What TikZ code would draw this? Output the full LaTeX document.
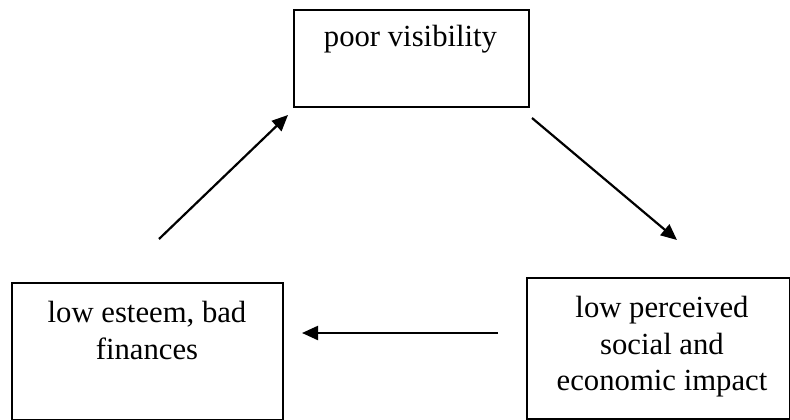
\documentclass[tikz,border=0pt]{standalone}
\usepackage{fontspec}
\setmainfont{Liberation Serif}
\usetikzlibrary{arrows.meta}
\begin{document}
\begin{tikzpicture}[x=1pt,y=-1pt,
  box/.style={draw=black, line width=2pt, inner sep=0pt, anchor=north west},
  txt/.style={font=\fontsize{30.7}{36.5}\selectfont, align=center, inner sep=0pt},
  conn/.style={line width=2.2pt, -{Triangle[length=16pt,width=14pt]}}]
\useasboundingbox (0,0) rectangle (790,420);
% boxes
\node[box, minimum width=235pt, minimum height=97pt] (top) at (293,9) {};
\node[box, minimum width=271pt, minimum height=137pt] (left) at (11,282) {};
\node[box, minimum width=263pt, minimum height=141pt] (right) at (526,277) {};
% texts
\node[txt, anchor=base] (toptxt) at (410.5,47) {poor visibility};
\node[txt, anchor=north] (lefttxt) at (147,301) {low esteem, bad\\finances};
\node[txt, anchor=north] (righttxt) at (662,296) {low perceived\\social and\\economic impact};
% arrow end points
\coordinate (a1s) at (159,239);
\coordinate (a1e) at (288,115);
\coordinate (a2s) at (532,118);
\coordinate (a2e) at (677,240);
\coordinate (a3s) at (498,333);
\coordinate (a3e) at (302,333);
\draw[conn] (a1s) -- (a1e);
\draw[conn] (a2s) -- (a2e);
\draw[conn] (a3s) -- (a3e);
\end{tikzpicture}
\end{document}
